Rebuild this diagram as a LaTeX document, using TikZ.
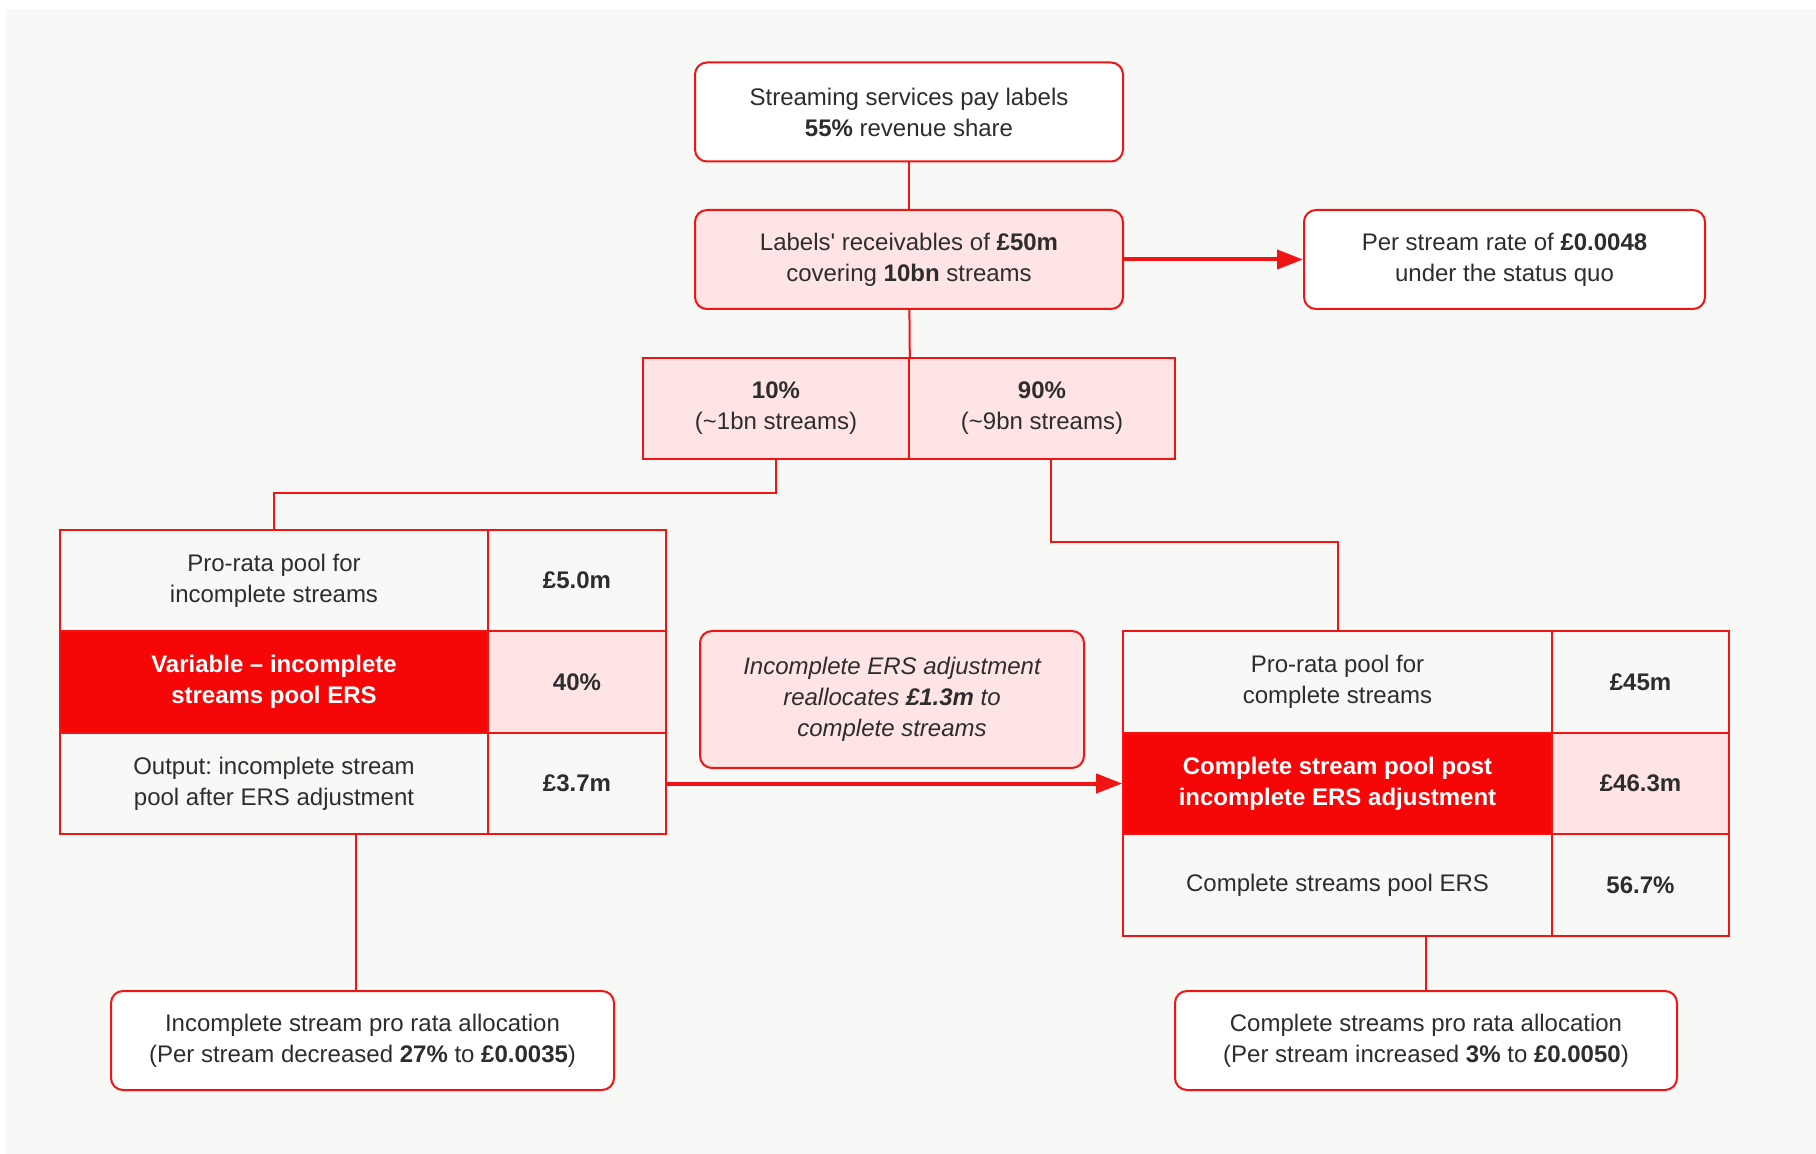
\documentclass[tikz,border=0pt]{standalone}
\usepackage{fontspec}
\setmainfont{Liberation Sans}
\usetikzlibrary{arrows.meta}
\usepackage{xcolor}
\definecolor{ersred}{RGB}{246,6,6}
\definecolor{ersline}{RGB}{240,20,20}
\definecolor{erspink}{RGB}{255,228,230}
\definecolor{paper}{RGB}{248,248,246}
\definecolor{ink}{RGB}{45,45,45}
\newcommand\ersfont{\fontsize{12}{15.5}\selectfont\frenchspacing}

\tikzset{
  box/.style={draw=ersline,line width=1pt,rounded corners=6pt,fill=white,text=ink,align=center,minimum height=49.5pt},
  cell/.style={draw=ersline,line width=0.8pt,fill=paper,text=ink,align=center,minimum height=50.75pt},
  hot/.style={cell,fill=ersred,text=white,font=\ersfont\bfseries},
  link/.style={draw=ersline,line width=1pt},
  arr/.style={link,line width=2pt,-{Triangle[length=13pt,width=9.5pt]}}
}

\begin{document}
\begin{tikzpicture}[x=0.5pt,y=-0.5pt,font=\ersfont]
  \useasboundingbox (0,0) rectangle (1816,1154);
  \fill[white] (0,0) rectangle (1816,1154);
  \fill[paper] (6,9) rectangle (1816,1154);

  % top of the chain
  \node(pay) at (909,112)[box,minimum width=214pt]{Streaming services pay labels\\\textbf{55\%} revenue share};
  \node(recv) at (909,259.5)[box,fill=erspink,minimum width=214pt]{Labels\textquotesingle{} receivables of \textbf{£50m}\\covering \textbf{10bn} streams};
  \node(rate) at (1504.5,259.5)[box,minimum width=200.5pt]{Per stream rate of \textbf{£0.0048}\\under the status quo};

  % split
  \node(inc) at (776,408.5)[cell,fill=erspink,minimum width=133pt]{\textbf{10\%}\\(\textasciitilde1bn streams)};
  \node(cmp) at (1042,408.5)[cell,fill=erspink,minimum width=133pt]{\textbf{90\%}\\(\textasciitilde9bn streams)};

  % incomplete streams table
  \node(pool1) at (274,580.5)[cell,minimum width=214pt]{Pro-rata pool for\\incomplete streams};
  \node(pool1v) at (577,580.5)[cell,minimum width=89pt]{\textbf{£5.0m}};
  \node(ers1) at (274,682)[hot,minimum width=214pt]{Variable -- incomplete\\streams pool ERS};
  \node(ers1v) at (577,682)[cell,fill=erspink,minimum width=89pt]{\textbf{40\%}};
  \node(out1) at (274,783.5)[cell,minimum width=214pt]{Output: incomplete stream\\pool after ERS adjustment};
  \node(out1v) at (577,783.5)[cell,minimum width=89pt]{\textbf{£3.7m}};

  % note
  \node(note) at (892,699.5)[box,fill=erspink,minimum width=192pt,minimum height=68.5pt,font=\ersfont\itshape]{Incomplete ERS adjustment\\reallocates \textbf{£1.3m} to\\complete streams};

  % complete streams table
  \node(pool2) at (1337.5,682)[cell,minimum width=214.5pt]{Pro-rata pool for\\complete streams};
  \node(pool2v) at (1640.5,682)[cell,minimum width=88.5pt]{\textbf{£45m}};
  \node(post) at (1337.5,783.5)[hot,minimum width=214.5pt]{Complete stream pool post\\incomplete ERS adjustment};
  \node(postv) at (1640.5,783.5)[cell,fill=erspink,minimum width=88.5pt]{\textbf{£46.3m}};
  \node(ers2) at (1337.5,885)[cell,minimum width=214.5pt]{Complete streams pool ERS};
  \node(ers2v) at (1640.5,885)[cell,minimum width=88.5pt]{\textbf{56.7\%}};

  % allocations
  \node(alloc1) at (362.5,1040.5)[box,minimum width=251.5pt]{Incomplete stream pro rata allocation\\(Per stream decreased \textbf{27\%} to \textbf{£0.0035})};
  \node(alloc2) at (1426,1040.5)[box,minimum width=251pt]{Complete streams pro rata allocation\\(Per stream increased \textbf{3\%} to \textbf{£0.0050})};

  \draw[link] (pay) -- (recv);
  \draw[arr] (recv) -- (rate);
  \draw[link] (recv) -- (inc.north east);
  \draw[link] (inc.south) -- ++(0,33) -| (pool1.north);
  \draw[link] ([xshift=4.5pt]cmp.south) -- ++(0,82) -| (pool2.north);
  \draw[arr] (out1v) -- (post);
  \draw[link] ([xshift=-3.5pt]alloc1.north |- out1.south) -- ([xshift=-3.5pt]alloc1.north);
  \draw[link] (alloc2.north |- ers2.south) -- (alloc2);
\end{tikzpicture}
\end{document}
